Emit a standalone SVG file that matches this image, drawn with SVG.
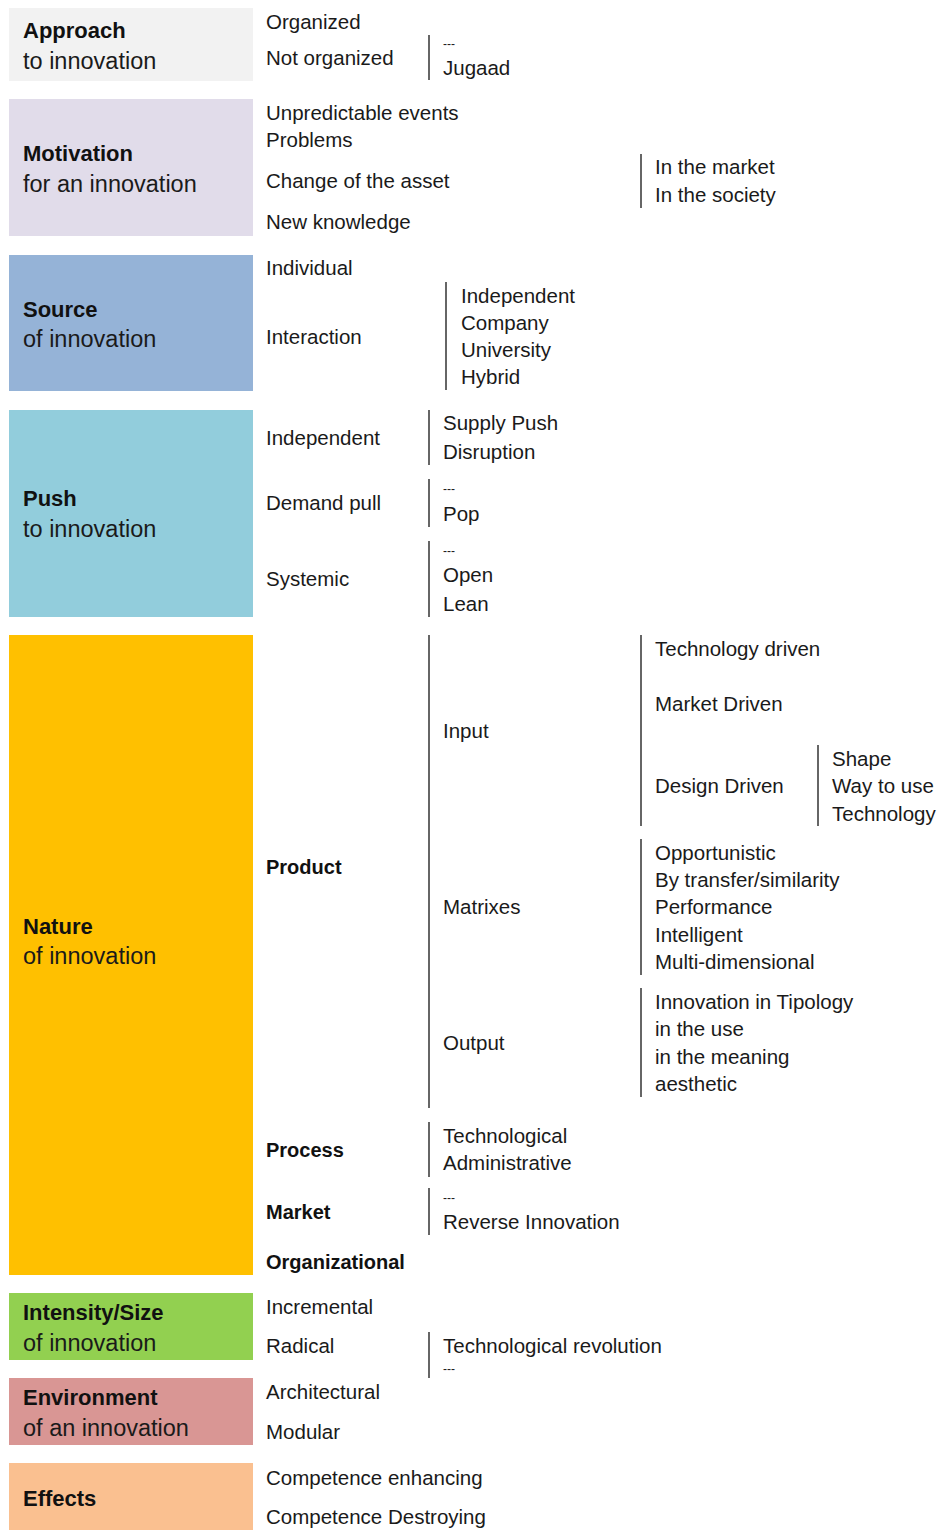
<svg xmlns="http://www.w3.org/2000/svg" width="939" height="1530" viewBox="0 0 939 1530">
<style>
text{font-family:"Liberation Sans",Arial,sans-serif;fill:#1a1a1a;font-size:20.5px}
.t{font-size:22px;font-weight:bold;fill:#111}
.s{font-size:23.5px}
.b{font-weight:bold;fill:#111;font-size:20px}
.d{font-size:12px}
.ln{stroke:#333;stroke-width:1.5;fill:none}
</style>
<rect width="939" height="1530" fill="#ffffff"/>
<g id="approach">
<rect x="9" y="8" width="244" height="73" fill="#f2f2f2"/>
<text class="t" x="23" y="38">Approach</text>
<text class="s" x="23" y="69">to innovation</text>
<text x="266" y="29">Organized</text>
<text x="266" y="65">Not organized</text>
<text class="d" x="443" y="48">---</text>
<text x="443" y="75">Jugaad</text>
</g>
<g id="motivation">
<rect x="9" y="99" width="244" height="137" fill="#e1dcea"/>
<text class="t" x="23" y="161">Motivation</text>
<text class="s" x="23" y="192">for an innovation</text>
<text x="266" y="120">Unpredictable events</text>
<text x="266" y="147">Problems</text>
<text x="266" y="188">Change of the asset</text>
<text x="266" y="229">New knowledge</text>
<text x="655" y="174">In the market</text>
<text x="655" y="202">In the society</text>
</g>
<g id="source">
<rect x="9" y="255" width="244" height="136" fill="#95b3d7"/>
<text class="t" x="23" y="317">Source</text>
<text class="s" x="23" y="347">of innovation</text>
<text x="266" y="275">Individual</text>
<text x="266" y="344">Interaction</text>
<text x="461" y="303">Independent</text>
<text x="461" y="330">Company</text>
<text x="461" y="357">University</text>
<text x="461" y="384">Hybrid</text>
</g>
<g id="push">
<rect x="9" y="410" width="244" height="207" fill="#92cddc"/>
<text class="t" x="23" y="506">Push</text>
<text class="s" x="23" y="537">to innovation</text>
<text x="266" y="445">Independent</text>
<text x="443" y="430">Supply Push</text>
<text x="443" y="459">Disruption</text>
<text x="266" y="510">Demand pull</text>
<text class="d" x="443" y="493">---</text>
<text x="443" y="521">Pop</text>
<text x="266" y="586">Systemic</text>
<text class="d" x="443" y="555">---</text>
<text x="443" y="582">Open</text>
<text x="443" y="611">Lean</text>
</g>
<g id="nature">
<rect x="9" y="635" width="244" height="640" fill="#ffc000"/>
<text class="t" x="23" y="934">Nature</text>
<text class="s" x="23" y="964">of innovation</text>
<text class="b" x="266" y="874">Product</text>
<text x="443" y="738">Input</text>
<text x="655" y="656">Technology driven</text>
<text x="655" y="711">Market Driven</text>
<text x="655" y="793">Design Driven</text>
<text x="832" y="766">Shape</text>
<text x="832" y="793">Way to use</text>
<text x="832" y="821">Technology</text>
<text x="443" y="914">Matrixes</text>
<text x="655" y="860">Opportunistic</text>
<text x="655" y="887">By transfer/similarity</text>
<text x="655" y="914">Performance</text>
<text x="655" y="942">Intelligent</text>
<text x="655" y="969">Multi-dimensional</text>
<text x="443" y="1050">Output</text>
<text x="655" y="1009">Innovation in Tipology</text>
<text x="655" y="1036">in the use</text>
<text x="655" y="1064">in the meaning</text>
<text x="655" y="1091">aesthetic</text>
<text class="b" x="266" y="1157">Process</text>
<text x="443" y="1143">Technological</text>
<text x="443" y="1170">Administrative</text>
<text class="b" x="266" y="1219">Market</text>
<text class="d" x="443" y="1202">---</text>
<text x="443" y="1229">Reverse Innovation</text>
<text class="b" x="266" y="1269">Organizational</text>
</g>
<g id="intensity">
<rect x="9" y="1293" width="244" height="67" fill="#92d050"/>
<text class="t" x="23" y="1320">Intensity/Size</text>
<text class="s" x="23" y="1351">of innovation</text>
<text x="266" y="1314">Incremental</text>
<text x="266" y="1353">Radical</text>
<text x="443" y="1353">Technological revolution</text>
<text class="d" x="443" y="1373">---</text>
</g>
<g id="environment">
<rect x="9" y="1378" width="244" height="67" fill="#d99694"/>
<text class="t" x="23" y="1405">Environment</text>
<text class="s" x="23" y="1436">of an innovation</text>
<text x="266" y="1399">Architectural</text>
<text x="266" y="1439">Modular</text>
</g>
<g id="effects">
<rect x="9" y="1463" width="244" height="67" fill="#fac090"/>
<text class="t" x="23" y="1506">Effects</text>
<text x="266" y="1485">Competence enhancing</text>
<text x="266" y="1524">Competence Destroying</text>
</g>
<g id="connectors" class="ln">
<line x1="429" y1="35" x2="429" y2="80"/>
<line x1="641" y1="154" x2="641" y2="208"/>
<line x1="446" y1="282" x2="446" y2="390"/>
<line x1="429" y1="410" x2="429" y2="465"/>
<line x1="429" y1="479" x2="429" y2="527"/>
<line x1="429" y1="541" x2="429" y2="617"/>
<line x1="429" y1="635" x2="429" y2="1108"/>
<line x1="641" y1="635" x2="641" y2="826"/>
<line x1="818" y1="745" x2="818" y2="826"/>
<line x1="641" y1="839" x2="641" y2="975"/>
<line x1="641" y1="988" x2="641" y2="1097"/>
<line x1="429" y1="1122" x2="429" y2="1177"/>
<line x1="429" y1="1188" x2="429" y2="1235"/>
<line x1="429" y1="1332" x2="429" y2="1378"/>
</g>
</svg>
